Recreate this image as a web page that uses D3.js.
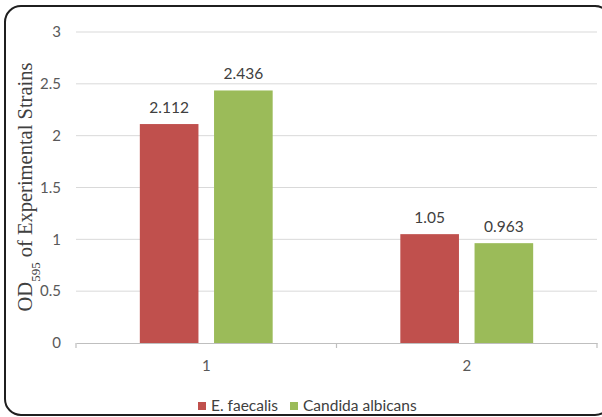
<!DOCTYPE html>
<html>
<head>
<meta charset="utf-8">
<script src="https://cdn.jsdelivr.net/npm/d3@7"></script>
<style>
  html, body { margin: 0; padding: 0; background: #fff; }
  svg { display: block; }
</style>
</head>
<body>
<svg id="chart" width="602" height="417"></svg>
<script>
// Groups along the x axis, the two strains and their OD595 readings
const categories = ["1", "2"];
const seriesNames = ["E. faecalis", "Candida albicans"];
const eFaecalis = [2.112, 1.05];
const candidaAlbicans = [2.436, 0.963];
const yTicks = [0, 0.5, 1, 1.5, 2, 2.5, 3];
const seriesColors = ["#c0504d", "#9bbb59"];

const svg = d3.select("#chart");
const plotLeft = 76, plotRight = 597;
const font = "Lato, 'Open Sans', sans-serif";

// Rounded outer frame
svg.append("rect")
  .attr("x", 5).attr("y", 6)
  .attr("width", 606).attr("height", 409)
  .attr("rx", 16).attr("ry", 16)
  .attr("fill", "none")
  .attr("stroke", "#1f1f1f")
  .attr("stroke-width", 2);

const x0 = d3.scaleBand()
  .domain(categories)
  .range([plotLeft, plotRight]);

const bw = x0.bandwidth();
const x1 = d3.scaleBand()
  .domain(seriesNames)
  .range([bw * 0.245, bw * 0.755])
  .paddingInner(0.21);

const y = d3.scaleLinear()
  .domain([0, 3])
  .range([343, 32]);

// Horizontal gridlines
svg.append("g")
  .selectAll("line")
  .data(yTicks.filter(d => d > 0))
  .join("line")
  .attr("x1", plotLeft).attr("x2", plotRight)
  .attr("y1", d => y(d)).attr("y2", d => y(d))
  .attr("stroke", "#d9d9d9")
  .attr("stroke-width", 1);

// Y tick labels
const yAxis = d3.axisLeft(y).tickValues(yTicks).tickSize(0).tickPadding(15)
  .tickFormat(d => d3.format("~g")(d));
const gy = svg.append("g").attr("transform", `translate(${plotLeft},0)`).call(yAxis);
gy.select(".domain").remove();
gy.selectAll("text")
  .attr("fill", "#595959")
  .style("font-family", font)
  .style("font-size", "15px");

// Bars
const rows = categories.map((c, i) => ({
  cat: c,
  values: [
    { name: seriesNames[0], value: eFaecalis[i] },
    { name: seriesNames[1], value: candidaAlbicans[i] }
  ]
}));

const groups = svg.append("g")
  .selectAll("g")
  .data(rows)
  .join("g")
  .attr("transform", d => `translate(${x0(d.cat)},0)`);

groups.selectAll("rect")
  .data(d => d.values)
  .join("rect")
  .attr("x", d => x1(d.name))
  .attr("width", x1.bandwidth())
  .attr("y", d => y(d.value))
  .attr("height", d => y(0) - y(d.value))
  .attr("fill", (d, i) => seriesColors[i]);

groups.selectAll("text.val")
  .data(d => d.values)
  .join("text")
  .attr("class", "val")
  .attr("x", d => x1(d.name) + x1.bandwidth() / 2)
  .attr("y", d => y(d.value) - 11)
  .attr("text-anchor", "middle")
  .attr("fill", "#404040")
  .style("font-family", font)
  .style("font-size", "15.5px")
  .text(d => d.value);

// X axis
const xAxis = d3.axisBottom(x0).tickSize(0).tickPadding(17);
const gx = svg.append("g").attr("transform", `translate(0,${y(0)})`).call(xAxis);
gx.select(".domain").attr("stroke", "#bfbfbf").attr("stroke-width", 1.2);
gx.selectAll("text")
  .attr("fill", "#595959")
  .style("font-family", font)
  .style("font-size", "15px");
// Boundary tick marks between groups
svg.append("g")
  .selectAll("line")
  .data([x0(categories[0]), x0(categories[1]), x0.range()[1]])
  .join("line")
  .attr("x1", d => d).attr("x2", d => d)
  .attr("y1", y(0)).attr("y2", y(0) + 5)
  .attr("stroke", "#bfbfbf").attr("stroke-width", 1.2);

// Y axis title: OD595 of Experimental Strains
const title = svg.append("text")
  .attr("transform", "translate(32,187) rotate(-90)")
  .attr("text-anchor", "middle")
  .attr("fill", "#404040")
  .style("font-family", "'Liberation Serif', 'Times New Roman', serif")
  .style("font-size", "20.5px");
title.append("tspan").text("OD");
title.append("tspan").attr("baseline-shift", "sub").style("font-size", "13px").text("595");
title.append("tspan").text(" of Experimental Strains");

// Legend
const legend = svg.append("g");
const legendItems = [
  { name: seriesNames[0], x: 198 },
  { name: seriesNames[1], x: 290 }
];
legendItems.forEach((it, i) => {
  legend.append("rect")
    .attr("x", it.x).attr("y", 402)
    .attr("width", 8).attr("height", 8)
    .attr("fill", seriesColors[i]);
  legend.append("text")
    .attr("x", it.x + 13).attr("y", 411)
    .attr("fill", "#404040")
    .style("font-family", font)
    .style("font-size", "15.5px")
    .text(it.name);
});
</script>
</body>
</html>
